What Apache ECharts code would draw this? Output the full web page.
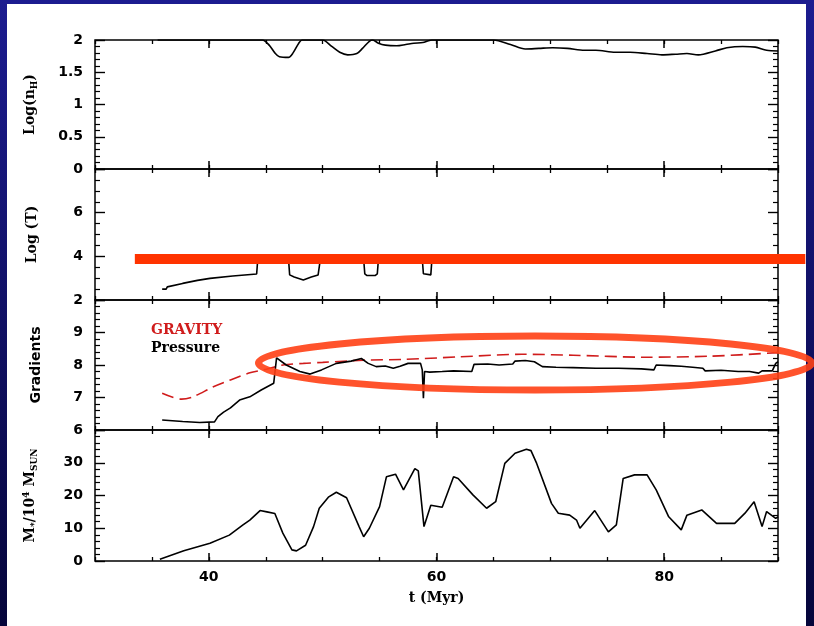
<!DOCTYPE html>
<html>
<head>
<meta charset="utf-8">
<script src="https://cdn.jsdelivr.net/npm/echarts@6/dist/echarts.min.js"></script>
<style>html,body{margin:0;padding:0;}#c{width:814px;height:626px;}</style>
</head>
<body>
<div id="c"></div>
<script>
// ---- data (t in Myr) ----
const tDensity = [35.5,44.7,45.3,45.8,46.2,47.0,47.4,47.9,48.2,50.0,50.8,51.5,52.2,53.0,53.5,54.1,54.4,54.9,55.5,56.5,57.3,58.0,58.8,59.3,59.6,65.0,66.5,67.8,69.0,70.2,71.5,73.0,74.0,75.7,77.0,78.5,79.8,81.0,82.0,83.0,84.5,85.5,86.9,88.0,89.0,90.0];
const logNH    = [2.0,2.0,1.92,1.8,1.74,1.73,1.8,1.95,2.0,2.0,1.9,1.81,1.77,1.79,1.87,1.98,2.0,1.95,1.92,1.91,1.93,1.95,1.96,1.99,2.0,2.0,1.93,1.86,1.87,1.88,1.87,1.84,1.84,1.81,1.81,1.79,1.77,1.78,1.79,1.77,1.83,1.88,1.9,1.89,1.84,1.83];

const tTemp = [35.9,36.25,36.35,37.7,39.0,40.1,42.1,44.2,44.3,47.0,47.1,47.5,48.3,49.0,49.6,49.8,53.6,53.7,53.9,54.6,54.8,54.9,58.75,58.85,59.0,59.5,59.6,90.0];
const logT  = [2.5,2.5,2.6,2.76,2.9,2.99,3.1,3.19,3.88,3.88,3.15,3.05,2.92,3.05,3.15,3.88,3.88,3.2,3.12,3.12,3.2,3.88,3.88,3.2,3.12,3.15,3.88,3.88];

const tGrav   = [35.9,37.6,38.6,40.4,41.9,43.6,44.8,46.5,48.3,50.0,53.6,57.0,62.0,67.5,72.0,78.3,84.0,90.0];
const gravity = [7.13,6.95,7.02,7.33,7.54,7.76,7.85,8.0,8.05,8.08,8.15,8.17,8.25,8.33,8.3,8.24,8.27,8.38];

const tPres    = [35.9,37.7,39.2,40.5,40.8,41.3,41.9,42.7,43.6,44.6,45.7,45.85,45.95,46.8,48.0,48.9,49.9,51.2,52.5,53.4,54.0,54.7,55.5,56.2,56.8,57.5,58.6,58.75,58.85,58.95,59.4,60.5,61.5,63.1,63.3,64.5,65.5,66.7,66.9,67.8,68.6,69.3,70.5,72.0,74.0,76.0,78.0,79.1,79.3,80.5,81.5,82.5,83.4,83.6,85.0,86.5,87.5,88.3,88.6,89.5,89.8,90.0];
const pressure = [6.31,6.26,6.23,6.25,6.41,6.55,6.68,6.92,7.02,7.23,7.44,7.5,8.22,8.0,7.8,7.72,7.85,8.05,8.12,8.2,8.05,7.95,7.97,7.9,7.96,8.05,8.05,7.85,6.98,7.8,7.78,7.8,7.82,7.8,8.02,8.03,8.0,8.03,8.12,8.14,8.1,7.95,7.93,7.92,7.9,7.9,7.88,7.85,8.0,7.98,7.96,7.93,7.9,7.82,7.84,7.8,7.8,7.75,7.82,7.82,8.05,8.1];

const tMass = [35.7,37.8,40.1,41.8,43.0,43.6,44.5,45.1,45.8,46.5,47.3,47.7,48.5,49.2,49.7,50.5,51.2,52.1,53.2,53.6,54.1,55.0,55.6,56.4,57.1,58.1,58.4,58.9,59.5,60.5,61.5,61.9,63.2,64.4,65.2,66.0,66.9,67.9,68.3,68.8,70.1,70.7,71.7,72.3,72.6,73.9,75.1,75.8,76.4,77.4,78.5,79.3,80.4,81.5,82.0,83.3,84.6,86.2,87.1,87.9,88.6,89.0,89.8,90.0];
const mass  = [0.5,3.1,5.4,7.9,11,12.5,15.4,15,14.5,8.5,3.4,3.1,4.8,10.5,16.1,19.5,21,19.3,10.5,7.4,10,16.6,25.7,26.5,21.7,28.2,27.5,10.5,17,16.4,25.7,25.2,20.2,16.1,18.1,29.8,32.9,34.1,33.7,29.8,17.6,14.6,14,12.5,10,15.4,8.9,11,25.2,26.3,26.3,21.7,13.5,9.5,14,15.6,11.5,11.5,14.6,18.1,10.5,15.1,13,13.5];

const xMajorTicks = [40, 60, 80];
const yRanges = [[0, 2, 0.5, 5], [2, 8, 2, 4], [6, 10, 1, 5], [0, 40, 10, 5]];
const yTitles = ['Log(n{s|H})', 'Log (T)', 'Gradients', 'M{s|*}/10{p|4} M{s|SUN}'];
const seriesNames = ['GRAVITY', 'Pressure'];

// annotation anchors in data coordinates
const barAnchor = {t0: 33.5, t1: 92.4, v: 3.88};            // panel 2
const ellipseAnchor = {t: 68.66, v: 8.06, dt: 24.3, dv: 0.83}; // panel 3

function zip(a, b) { const n = Math.min(a.length, b.length); const r = []; for (let i = 0; i < n; i++) r.push([a[i], b[i]]); return r; }

// ---- layout ----
const L = 95, W = 683;
const tops = [40, 169, 300, 430];
const hts = [129, 131, 130, 131];
const serifBold = {fontFamily: 'DejaVu Serif', fontWeight: 'bold', color: '#000'};
const sansBold = {fontFamily: 'DejaVu Sans', fontWeight: 'bold', color: '#000'};

const grids = [], xAxes = [], yAxes = [];
for (let i = 0; i < 4; i++) {
  grids.push({left: L, top: tops[i], width: W, height: hts[i], show: true, borderColor: '#000', borderWidth: 1.5, backgroundColor: 'transparent'});
  ['bottom', 'top'].forEach(pos => {
    xAxes.push({
      gridIndex: i, type: 'value', min: 30, max: 90, interval: 5, position: pos,
      axisLine: {show: false}, splitLine: {show: false},
      axisTick: {show: true, inside: true, length: 4, lineStyle: {color: '#000', width: 1.3}},
      axisLabel: (pos === 'bottom' && i === 3) ? Object.assign({show: true, customValues: xMajorTicks, fontSize: 14, margin: 9}, sansBold) : {show: false},
      name: (pos === 'bottom' && i === 3) ? 't (Myr)' : '',
      nameLocation: 'middle', nameGap: 30,
      nameTextStyle: Object.assign({fontSize: 14}, serifBold)
    });
    xAxes.push({
      gridIndex: i, type: 'value', min: 30, max: 90, position: pos,
      axisLine: {show: false}, splitLine: {show: false},
      axisTick: {show: true, inside: true, length: 8, customValues: xMajorTicks, lineStyle: {color: '#000', width: 1.5}},
      axisLabel: {show: false}
    });
  });
  const [mn, mx, iv, sn] = yRanges[i];
  ['left', 'right'].forEach(pos => {
    yAxes.push({
      gridIndex: i, type: 'value', min: mn, max: mx, interval: iv, position: pos,
      axisLine: {show: false}, splitLine: {show: false},
      axisTick: {show: true, inside: true, length: 10, lineStyle: {color: '#000', width: 1.4}},
      minorTick: {show: true, splitNumber: sn, length: 5, lineStyle: {color: '#000', width: 1.2}},
      axisLabel: pos === 'left' ? Object.assign({show: true, fontSize: 14, margin: 12, showMaxLabel: i === 0}, sansBold) : {show: false},
      name: pos === 'left' ? yTitles[i] : '',
      nameLocation: 'middle', nameRotate: 90, nameGap: i === 2 ? 52 : 56,
      nameTextStyle: Object.assign({fontSize: 14, rich: {
        s: Object.assign({fontSize: 9, verticalAlign: 'bottom', padding: [8, 0, 0, 0]}, i === 2 ? sansBold : serifBold),
        p: Object.assign({fontSize: 9, verticalAlign: 'top', padding: [0, 0, 6, 0]}, serifBold)
      }}, i === 2 ? sansBold : serifBold)
    });
  });
}

const lineStyleBlack = {color: '#000', width: 1.6};
const series = [
  {type: 'line', name: 'density', xAxisIndex: 0, yAxisIndex: 0, data: zip(tDensity, logNH), showSymbol: false, smooth: 0.3, lineStyle: lineStyleBlack, silent: true},
  {type: 'line', name: 'temperature', xAxisIndex: 4, yAxisIndex: 2, data: zip(tTemp, logT), showSymbol: false, lineStyle: lineStyleBlack, silent: true},
  {type: 'line', name: seriesNames[0], xAxisIndex: 8, yAxisIndex: 4, data: zip(tGrav, gravity), showSymbol: false, smooth: 0.3, color: '#d01c1c',
    lineStyle: {color: '#d01c1c', width: 1.6, type: [12, 6]}, silent: true},
  {type: 'line', name: seriesNames[1], xAxisIndex: 8, yAxisIndex: 4, data: zip(tPres, pressure), showSymbol: false, color: '#000', lineStyle: lineStyleBlack, silent: true},
  {type: 'line', name: 'mass', xAxisIndex: 12, yAxisIndex: 6, data: zip(tMass, mass), showSymbol: false, lineStyle: lineStyleBlack, silent: true}
];

const chart = echarts.init(document.getElementById('c'), null, {renderer: 'canvas'});
chart.setOption({
  animation: false,
  backgroundColor: {type: 'linear', x: 0, y: 0, x2: 0, y2: 1, colorStops: [{offset: 0, color: '#1c1c90'}, {offset: 1, color: '#05053a'}]},
  grid: grids, xAxis: xAxes, yAxis: yAxes, series: series,
  legend: {
    show: true, orient: 'vertical', left: 141, top: 318, icon: 'none', itemWidth: 0, itemHeight: 10, itemGap: 4,
    selectedMode: false,
    data: [{name: seriesNames[0], textStyle: {color: '#d01c1c'}}, {name: seriesNames[1], textStyle: {color: '#000'}}],
    textStyle: {fontFamily: 'DejaVu Serif', fontWeight: 'bold', fontSize: 14}
  },
  graphic: [{id: 'paper', type: 'rect', z: -100, silent: true, shape: {x: 7, y: 4, width: 799, height: 622}, style: {fill: '#ffffff'}}]
});

// annotations positioned through the axes
const b0 = chart.convertToPixel({xAxisIndex: 4, yAxisIndex: 2}, [barAnchor.t0, barAnchor.v]);
const b1 = chart.convertToPixel({xAxisIndex: 4, yAxisIndex: 2}, [barAnchor.t1, barAnchor.v]);
const ec = chart.convertToPixel({xAxisIndex: 8, yAxisIndex: 4}, [ellipseAnchor.t, ellipseAnchor.v]);
const ee = chart.convertToPixel({xAxisIndex: 8, yAxisIndex: 4}, [ellipseAnchor.t + ellipseAnchor.dt, ellipseAnchor.v + ellipseAnchor.dv]);
chart.setOption({
  graphic: [
    {id: 'bar', type: 'rect', z: 100, silent: true, shape: {x: b0[0], y: b0[1] - 5, width: b1[0] - b0[0], height: 10}, style: {fill: '#ff3300'}},
    {id: 'ring', type: 'ellipse', z: 100, silent: true, shape: {cx: ec[0], cy: ec[1], rx: ee[0] - ec[0], ry: ec[1] - ee[1]},
      style: {fill: 'none', stroke: '#ff4015', lineWidth: 7, opacity: 0.9}}
  ]
});
</script>
</body>
</html>
